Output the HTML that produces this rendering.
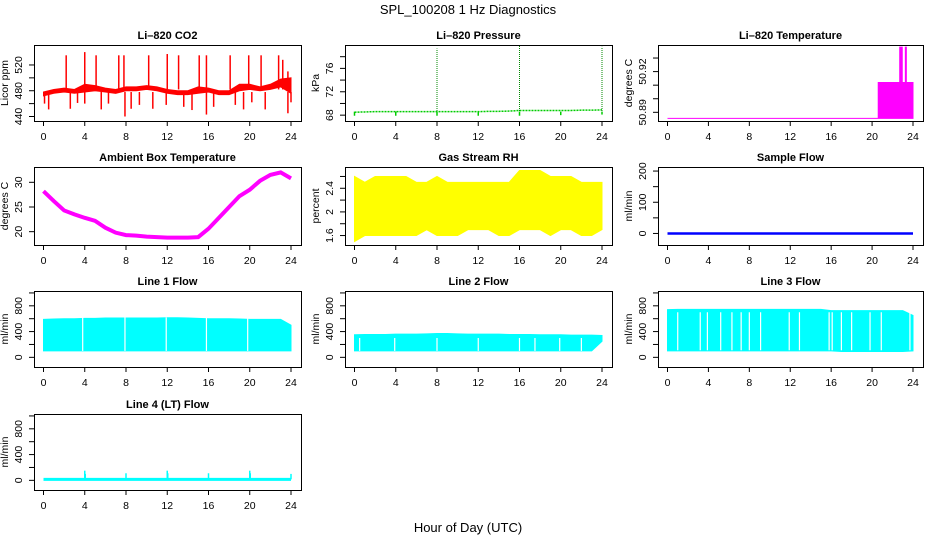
<!DOCTYPE html>
<html><head><meta charset="utf-8">
<style>
html,body{margin:0;padding:0;background:#fff;}
svg{display:block;font-family:"Liberation Sans",sans-serif;}
</style></head>
<body>
<svg id="c" width="936" height="540" viewBox="0 0 936 540" xmlns="http://www.w3.org/2000/svg">
<text x="468" y="14" text-anchor="middle" font-size="13">SPL_100208  1 Hz Diagnostics</text>
<text x="468" y="532" text-anchor="middle" font-size="13">Hour of Day (UTC)</text>
</svg>
<script>
const hours=[0,1,2,3,4,5,6,7,8,9,10,11,12,13,14,15,16,17,18,19,20,21,22,23,24];
const xTicks=[0,4,8,12,16,20,24];
// CO2
const co2Lo=[472,476,478,476,478,480,478,476,480,480,482,480,476,474,474,476,478,474,474,480,482,480,482,486,476];
const co2Hi=[478,482,484,482,490,488,484,482,486,486,488,486,482,480,480,486,484,480,480,490,490,486,490,498,500];
const co2UpHours=[2.2,4.0,5.1,7.3,7.8,10.2,12.0,13.1,15.1,15.8,18.1,19.9,21.1,22.8,23.2,23.7];
const co2UpVals=[535,540,535,535,535,535,537,535,535,535,535,535,535,535,528,510];
const co2DnHours=[0.1,0.5,2.6,3.3,4.0,5.6,6.3,7.9,8.5,9.3,10.6,11.9,13.6,14.4,15.8,16.5,18.6,19.4,20.2,21.5,23.7,24.0];
const co2DnVals=[460,451,452,461,460,451,460,440,452,458,452,458,455,450,443,455,458,451,462,451,445,462];
// Pressure
const presVals=[68.5,68.55,68.6,68.6,68.6,68.6,68.6,68.6,68.6,68.6,68.6,68.6,68.6,68.65,68.65,68.7,68.8,68.8,68.8,68.8,68.8,68.8,68.85,68.85,68.9];
const presSpikeHours=[8,16,24];
const presSpikeVals=[79.4,80,79.7];
const presDipHours=[0,4,8,12,16,20,24];
const presDipVals=[67.9,67.9,67.9,67.9,67.9,68.0,68.1];
// Li-820 temperature
const tempHours=[0,20.6,20.6,22.7,22.7,22.95,22.95,23.25,23.25,23.35,23.35,24];
const tempVals=[50.8855,50.8855,50.912,50.912,50.938,50.938,50.912,50.912,50.938,50.938,50.912,50.912];
// Ambient temperature
const ambVals=[28.2,26.2,24.3,23.5,22.8,22.2,20.8,19.8,19.3,19.2,19.0,18.9,18.8,18.8,18.8,18.9,20.6,22.8,25.0,27.2,28.5,30.3,31.5,32.0,30.8];
// RH
const rhLo=[1.5,1.6,1.6,1.6,1.6,1.6,1.6,1.7,1.6,1.6,1.6,1.7,1.7,1.7,1.6,1.6,1.7,1.7,1.7,1.6,1.7,1.7,1.6,1.6,1.7];
const rhHi=[2.6,2.5,2.6,2.6,2.6,2.6,2.5,2.5,2.6,2.5,2.5,2.5,2.5,2.5,2.5,2.5,2.7,2.7,2.7,2.6,2.6,2.6,2.5,2.5,2.5];
// Sample flow
const sampleVals=[0,0,0,0,0,0,0,0,0,0,0,0,0,0,0,0,0,0,0,0,0,0,0,0,0];
// Line flows
const l1Lo=[100,100,100,100,100,100,100,100,100,100,100,100,100,100,100,100,100,100,100,100,100,100,100,100,100];
const l1Hi=[590,595,600,600,605,605,610,610,610,610,610,610,615,615,610,605,600,600,600,595,590,590,590,590,500];
const l1Gaps=[3.8,7.9,11.9,15.8,19.8];
const l2Lo=[100,100,100,100,100,100,100,100,100,100,100,100,100,100,100,100,100,100,100,100,100,100,100,100,250];
const l2Hi=[350,355,355,355,360,360,360,365,370,370,365,360,360,360,360,355,355,355,350,350,350,345,345,345,340];
const l2Gaps=[0.5,3.9,8.0,12.0,16.0,17.5,19.9,22.0];
const l3Lo=[100,100,100,100,100,100,100,100,100,100,100,100,100,100,100,100,100,90,90,90,90,90,90,90,100];
const l3Hi=[740,745,745,745,745,745,745,745,745,745,745,745,745,745,745,745,725,725,725,725,725,725,725,725,650];
const l3Gaps=[1.0,3.2,3.9,5.2,6.3,7.2,8.0,9.1,11.9,12.9,15.8,16.1,17.0,18.0,19.8,20.9,23.7];
const l4Base=[15,15,15,15,15,15,15,15,15,15,15,15,15,15,15,15,15,15,15,15,15,15,15,15,15];
const l4SpikeHours=[4,4.05,8,12,12.05,16,20,20.05,24];
const l4SpikeVals=[150,100,110,150,110,110,150,110,100];

const svg=document.getElementById('c');
const NS='http://www.w3.org/2000/svg';
function mk(tag,attrs,parent){const e=document.createElementNS(NS,tag);for(const k in attrs)e.setAttribute(k,attrs[k]);(parent||svg).appendChild(e);return e;}
const cols=[[34,301],[345,612],[658,923]];
const rows=[[45,121],[167,245],[291,367],[414,490]];

function panel(name,c,r,title,ylab,ymin,ymax,ticks,labels){
  const [x0,x1]=cols[c],[y0,y1]=rows[r];
  const g=mk('g',{});
  
  
  const xs=h=>x0+9.5+(h/24)*(x1-x0-19.5);
  const ys=v=>y1-(v-ymin)/(ymax-ymin)*(y1-y0);
  const t=mk('text',{x:(x0+x1)/2,y:y0-6,'text-anchor':'middle','font-size':11,'font-weight':'bold'},g);
  t.textContent=title;
  
  
  const plot=mk('g',{},g);
  
  
  const ax=mk('g',{stroke:'#000','stroke-width':1,fill:'none'},g);
  
  
  mk('rect',{x:x0+0.5,y:y0+0.5,width:x1-x0,height:y1-y0},ax);
  xTicks.forEach(h=>{
    mk('line',{x1:xs(h),x2:xs(h),y1:y1,y2:y1+5},ax);
    const tl=mk('text',{x:xs(h),y:y1+19,'text-anchor':'middle','font-size':10.5,fill:'#000',stroke:'none'},g);
    tl.textContent=h;
    
    
  });
  ticks.forEach(v=>{mk('line',{x1:x0,x2:x0-5,y1:ys(v),y2:ys(v)},ax);});
  labels.forEach(v=>{
    const yy=ys(v),xx=x0-12;
    const tl=mk('text',{x:xx,y:yy,'text-anchor':'middle','font-size':10.5,transform:`rotate(-90 ${xx} ${yy})`},g);
    tl.textContent=v;
    
    
  });
  const yx=x0-26,yy=(y0+y1)/2;
  const yt=mk('text',{x:yx,y:yy,'text-anchor':'middle','font-size':10.5,transform:`rotate(-90 ${yx} ${yy})`},g);
  yt.textContent=ylab;
  
  
  return {xs,ys,plot};
}
function band(p,hs,lo,hi,color){
  const pts=[];
  hs.forEach((h,i)=>pts.push(p.xs(h)+','+p.ys(hi[i])));
  for(let i=hs.length-1;i>=0;i--)pts.push(p.xs(hs[i])+','+p.ys(lo[i]));
  const e=mk('polygon',{points:pts.join(' '),fill:color,stroke:color,'stroke-width':1},p.plot);
  
  
}
function vlines(p,hs,vals,base,color,extra){
  hs.forEach((h,i)=>{
    const e=mk('line',Object.assign({x1:p.xs(h),x2:p.xs(h),y1:p.ys(base),y2:p.ys(vals[i]),stroke:color,'stroke-width':1.5},extra||{}),p.plot);
    
    
  });
}
function line(p,hs,vals,color,w,extra){
  const e=mk('polyline',Object.assign({points:hs.map((h,i)=>p.xs(h)+','+p.ys(vals[i])).join(' '),fill:'none',stroke:color,'stroke-width':w},extra||{}),p.plot);
  
  
}
function gaps(p,hs,lo,hi){
  hs.forEach(h=>{
    const e=mk('line',{x1:p.xs(h),x2:p.xs(h),y1:p.ys(hi),y2:p.ys(lo),stroke:'#fff','stroke-width':1.2},p.plot);
    
    
  });
}
const fTicks=[0,200,400,600,800,1000],fLabels=[0,400,800];

let p=panel('co2',0,0,'Li\u2013820 CO2','Licor ppm',433,551,[440,460,480,500,520],[440,480,520]);
band(p,hours,co2Lo,co2Hi,'#ff0000');
vlines(p,co2UpHours,co2UpVals,482,'#ff0000');
vlines(p,co2DnHours,co2DnVals,478,'#ff0000');

p=panel('pressure',1,0,'Li\u2013820 Pressure','kPa',67.0,80.0,[68,70,72,74,76,78],[68,72,76]);
line(p,hours,presVals,'#00cc00',1.5,{'stroke-dasharray':'2 1'});
vlines(p,presSpikeHours,presSpikeVals,68.7,'#008800',{'stroke-width':1,'stroke-dasharray':'1 1'});
vlines(p,presDipHours,presDipVals,68.6,'#00cc00',{'stroke-width':1.5});

p=panel('li820-temp',2,0,'Li\u2013820 Temperature','degrees C',50.8836,50.9396,[50.89,50.90,50.91,50.92,50.93],[50.89,50.92]);
{const base=tempHours.map(()=>50.8855);band(p,tempHours,base,tempVals,'#ff00ff');}

p=panel('ambient-temp',0,1,'Ambient Box Temperature','degrees C',17.3,33.1,[20,25,30],[20,25,30]);
line(p,hours,ambVals,'#ff00ff',4);

p=panel('gas-rh',1,1,'Gas Stream RH','percent',1.44,2.76,[1.6,1.8,2.0,2.2,2.4,2.6],[1.6,2.0,2.4]);
band(p,hours,rhLo,rhHi,'#ffff00');

p=panel('sample-flow',2,1,'Sample Flow','ml/min',-37,213,[0,50,100,150,200],[0,100,200]);
line(p,hours,sampleVals,'#0000ff',2.5);

p=panel('line1-flow',0,2,'Line 1 Flow','ml/min',-150,1030,fTicks,fLabels);
band(p,hours,l1Lo,l1Hi,'#00ffff');gaps(p,l1Gaps,100,620);
p=panel('line2-flow',1,2,'Line 2 Flow','ml/min',-150,1030,fTicks,fLabels);
band(p,hours,l2Lo,l2Hi,'#00ffff');gaps(p,l2Gaps,100,300);
p=panel('line3-flow',2,2,'Line 3 Flow','ml/min',-150,1030,fTicks,fLabels);
band(p,hours,l3Lo,l3Hi,'#00ffff');gaps(p,l3Gaps,110,700);
p=panel('line4-flow',0,3,'Line 4 (LT) Flow','ml/min',-150,1030,fTicks,fLabels);
line(p,hours,l4Base,'#00ffff',3);
vlines(p,l4SpikeHours,l4SpikeVals,15,'#00ffff');
</script>
</body></html>
